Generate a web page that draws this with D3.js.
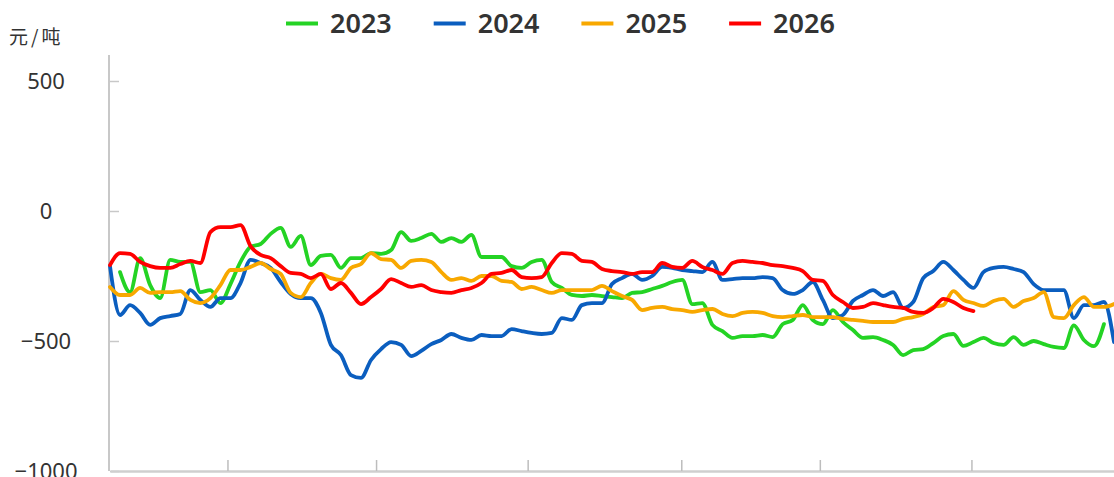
<!DOCTYPE html>
<html>
<head>
<meta charset="utf-8">
<script src="https://cdn.jsdelivr.net/npm/d3@7"></script>
<style>
  html, body { margin: 0; padding: 0; background: #fff; overflow: hidden; }
  #app { width: 1114px; height: 477px; }
</style>
</head>
<body>
<div id="app"></div>
<script>
const WIDTH = 1114, HEIGHT = 477;

const years = ['2023', '2024', '2025', '2026'];
const colors = ['#24d324', '#0b5ebf', '#f8a800', '#ff0000'];

// y ticks and the x tick marks (position along the sampled days)
const yTicks = [500, 0, -500, -1000];
const xTickDays = [11.7, 26.5, 41.6, 56.9, 70.7, 85.8];

// spread, 元/吨, sampled at 101 evenly spaced days
const s2023 = [null, -235, -312, -181, -285, -335, -188, -196, -196, -312,
  -304, -354, -281, -196, -138, -127, -88, -65, -138, -96,
  -208, -173, -169, -219, -181, -181, -162, -165, -150, -81,
  -115, -104, -88, -119, -104, -119, -92, -177, -177, -177,
  -212, -219, -196, -188, -273, -296, -323, -327, -323, -327,
  -331, -335, -315, -312, -300, -288, -273, -265, -358, -354,
  -438, -462, -488, -481, -481, -477, -485, -435, -419, -362,
  -419, -435, -381, -427, -458, -488, -485, -496, -515, -554,
  -535, -531, -508, -481, -473, -519, -504, -488, -508, -515,
  -485, -515, -500, -512, -523, -527, -440, -496, -520, -435, null];

const s2024 = [-212, -400, -362, -392, -438, -412, -404, -396, -304, -342,
  -369, -335, -335, -277, -188, -200, -219, -273, -319, -335,
  -335, -392, -515, -554, -631, -642, -573, -531, -504, -515,
  -558, -538, -512, -496, -473, -488, -496, -477, -481, -481,
  -454, -462, -469, -473, -469, -412, -419, -362, -354, -354,
  -281, -258, -242, -265, -250, -215, -219, -227, -231, -235,
  -196, -265, -262, -258, -258, -254, -258, -304, -319, -304,
  -273, -342, -412, -400, -346, -323, -304, -327, -312, -373,
  -350, -258, -231, -196, -227, -265, -296, -235, -219, -215,
  -223, -235, -281, -304, -304, -304, -412, -362, -362, -350, -504];

const s2025 = [-292, -323, -323, -296, -315, -312, -312, -308, -342, -354,
  -335, -285, -227, -227, -215, -200, -223, -242, -315, -331,
  -277, -242, -258, -265, -219, -204, -162, -185, -188, -219,
  -192, -188, -196, -235, -265, -258, -269, -250, -250, -269,
  -273, -300, -292, -304, -315, -304, -304, -304, -304, -288,
  -308, -327, -342, -381, -373, -369, -377, -381, -388, -381,
  -377, -396, -404, -392, -388, -392, -404, -408, -404, -400,
  -408, -408, -408, -415, -419, -423, -427, -427, -427, -415,
  -408, -396, -369, -362, -308, -342, -354, -365, -346, -338,
  -369, -346, -335, -312, -408, -412, -362, -331, -369, -369, -358];

const s2026 = [-208, -162, -165, -196, -212, -219, -219, -204, -192, -200,
  -81, -62, -62, -54, -135, -169, -181, -212, -238, -242,
  -258, -242, -300, -277, -315, -358, -331, -300, -262, -277,
  -292, -285, -304, -312, -315, -304, -296, -277, -242, -238,
  -227, -254, -258, -254, -200, -162, -165, -192, -196, -223,
  -231, -235, -242, -235, -235, -200, -215, -219, -192, -215,
  -227, -242, -200, -192, -196, -200, -208, -212, -219, -231,
  -265, -269, -323, -350, -373, -369, -354, -362, -369, -373,
  -388, -392, -373, -338, -350, -373, -385];

const series = [s2023, s2024, s2025, s2026];

const svg = d3.select('#app')
  .append('svg')
    .attr('width', WIDTH)
    .attr('height', HEIGHT)
    .style('font-family', '"Noto Sans", "Noto Sans CJK SC", sans-serif');

const x = d3.scaleLinear()
  .domain([0, 100])
  .range([110, 1114]);

const y = d3.scaleLinear()
  .domain([-1000, 500])
  .range([471, 81]);

// y axis line runs a bit above the top tick
svg.append('line')
  .attr('x1', 109).attr('x2', 109)
  .attr('y1', y(600)).attr('y2', y(-1000))
  .attr('stroke', '#c8c8c8')
  .attr('stroke-width', 2);

const yAxis = svg.append('g')
  .attr('transform', 'translate(110,0)')
  .call(d3.axisLeft(y).tickValues(yTicks).tickFormat(d3.format('d'))
    .tickSizeInner(-9).tickSizeOuter(0));
yAxis.select('.domain').remove();
yAxis.selectAll('.tick line')
  .attr('stroke', '#c8c8c8')
  .attr('stroke-width', 1.5);
yAxis.selectAll('.tick text')
  .attr('x', -64)
  .attr('text-anchor', 'middle')
  .attr('fill', '#333')
  .style('font-size', '22px')
  .style('font-family', '"Noto Sans", sans-serif');

const xAxis = svg.append('g')
  .attr('transform', 'translate(0,471)')
  .call(d3.axisBottom(x).tickValues(xTickDays).tickSizeInner(-11).tickSizeOuter(0).tickFormat(''));
xAxis.select('.domain')
  .attr('stroke', '#cfcfcf')
  .attr('stroke-width', 2.5);
xAxis.selectAll('.tick line')
  .attr('stroke', '#bdbdbd')
  .attr('stroke-width', 1.5);

// unit label
svg.append('text')
  .attr('x', 9)
  .attr('y', 44)
  .attr('fill', '#333')
  .style('font-size', '19px')
  .style('letter-spacing', '3px')
  .style('font-family', '"Noto Sans CJK SC", sans-serif')
  .text('元/吨');

const line = d3.line()
  .defined(d => d != null)
  .x((d, i) => x(i))
  .y(d => y(d))
  .curve(d3.curveMonotoneX);

svg.selectAll('.series')
  .data(series)
  .enter()
  .append('path')
    .attr('class', 'series')
    .attr('d', d => line(d))
    .attr('fill', 'none')
    .attr('stroke', (d, i) => colors[i])
    .attr('stroke-width', 3.8)
    .attr('stroke-linejoin', 'round')
    .attr('stroke-linecap', 'round');

// legend across the top
const legend = svg.selectAll('.legend')
  .data(years)
  .enter()
  .append('g')
    .attr('class', 'legend')
    .attr('transform', (d, i) => `translate(${286 + i * 147.7},0)`);

legend.append('line')
  .attr('x1', 0).attr('x2', 32)
  .attr('y1', 23.5).attr('y2', 23.5)
  .attr('stroke', (d, i) => colors[i])
  .attr('stroke-width', 4);

legend.append('text')
  .attr('x', 44)
  .attr('y', 33)
  .attr('fill', '#333')
  .style('font-size', '27px')
  .style('font-weight', '600')
  .text(d => d);
</script>
</body>
</html>
